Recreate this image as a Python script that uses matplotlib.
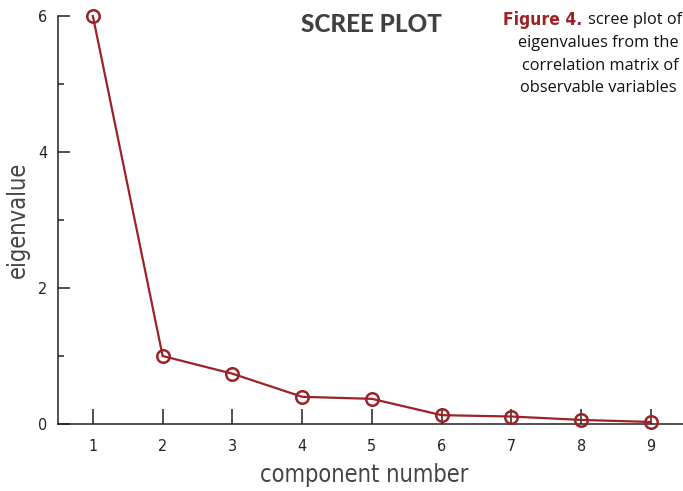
import matplotlib
matplotlib.use("Agg")
import matplotlib.pyplot as plt
from matplotlib.ticker import MultipleLocator

# data
components = [1, 2, 3, 4, 5, 6, 7, 8, 9]
eigenvalues = [6.0, 1.0, 0.74, 0.40, 0.37, 0.13, 0.11, 0.06, 0.03]
x_ticks = components
y_ticks = [0, 2, 4, 6]

red = "#9b2226"
W, H = 683, 491

fig = plt.figure(figsize=(W / 100, H / 100), dpi=100)
ax = fig.add_axes([58 / W, 67 / H, 1 - 58 / W, (424 - 16) / H])

ax.plot(components, eigenvalues, color=red, lw=1.6, marker="o", ms=9,
        mfc="none", mec=red, mew=1.8, zorder=3, clip_on=False)

ax.set_xlim(0.5, 9.46)
ax.set_ylim(0, 6)
ax.set_xticks(x_ticks)
ax.set_yticks(y_ticks)
ax.yaxis.set_minor_locator(MultipleLocator(1))

for s in ["top", "right"]:
    ax.spines[s].set_visible(False)
for s in ["left", "bottom"]:
    ax.spines[s].set_linewidth(1.1)
    ax.spines[s].set_color("#222222")

ax.tick_params(axis="x", direction="in", length=11, width=1.1, pad=11,
               colors="#222222", labelsize=11.5)
ax.tick_params(axis="y", which="major", direction="in", length=8.5, width=1.1,
               pad=8, colors="#222222", labelsize=11.5)
ax.tick_params(axis="y", which="minor", direction="in", length=4.3, width=1.1,
               colors="#222222")
for lab in ax.get_xticklabels() + ax.get_yticklabels():
    lab.set_fontfamily("DejaVu Sans")
    lab.set_fontstretch("condensed")

lab_font = dict(fontsize=17, color="#444444", family="DejaVu Sans",
                fontstretch="condensed")
fig.text(364 / W, 1 - 475 / H, "component number", ha="center", va="center",
         **lab_font)
fig.text(18 / W, 1 - 220 / H, "eigenvalue", ha="center", va="center",
         rotation=90, **lab_font)

fig.text(371 / W, 1 - 25 / H, "SCREE PLOT", ha="center", va="center",
         fontsize=17.5, fontweight=900, color="#404040", family="Lato")

# caption, kept just inside the right edge
cap = dict(fontsize=11.8, family="Open Sans", va="center", color="#111111")
t = fig.text(503 / W, 1 - 20 / H, "Figure 4.", color=red, fontweight="bold",
             fontsize=12.5, family="DejaVu Sans", fontstretch="condensed",
             va="center")
fig.canvas.draw()
bb = t.get_window_extent()
fig.text((bb.x1 + 6) / W, 1 - 20 / H, "scree plot of", **cap)
fig.text(518 / W, 1 - 43 / H, "eigenvalues from the", **cap)
fig.text(522 / W, 1 - 66 / H, "correlation matrix of", **cap)
fig.text(520 / W, 1 - 88 / H, "observable variables", **cap)

fig.savefig("out.png", dpi=100)
